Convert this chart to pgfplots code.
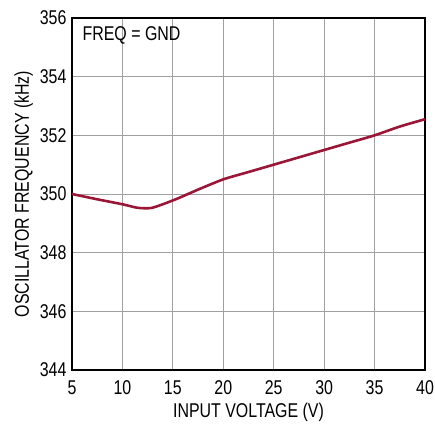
\documentclass[border=0pt]{standalone}
\usepackage{pgfplots}
\pgfplotsset{compat=1.18}
\usepackage{fontspec}
\setmainfont{Liberation Sans}[FakeStretch=0.8]
\definecolor{curve}{HTML}{9B1537}
\definecolor{gridc}{HTML}{A0A0A0}
\begin{document}
\begin{tikzpicture}[x=1bp,y=1bp]
\path[use as bounding box] (-72,-55) rectangle (363,370);
\begin{axis}[
  at={(0,0)}, anchor=south west,
  scale only axis,
  width=353bp, height=352bp,
  xmin=5, xmax=40, ymin=344, ymax=356,
  xtick={5,10,...,40},
  ytick={344,346,...,356},
  grid=major,
  major grid style={gridc, line width=0.9pt},
  axis line style={black, line width=1.2pt},
  tick style={draw=none},
  font=\fontsize{20}{22}\selectfont,
  /pgf/number format/assume math mode=true,
  /pgf/number format/1000 sep={},
  xlabel={INPUT VOLTAGE (V)},
  ylabel={OSCILLATOR FREQUENCY (kHz)},
  xlabel style={yshift=-2bp},
  ylabel style={yshift=0bp},
  xticklabel style={yshift=-7bp},
  yticklabel style={xshift=-2bp},
]
\addplot[curve, line width=2.6pt, smooth, tension=0.4] coordinates {
(5,350.0) (7.5,349.82) (10,349.65) (11.5,349.53) (12.8,349.52) (14,349.65)
(15.5,349.85) (17.5,350.15) (20,350.5) (22.5,350.75) (25,351.0)
(27.5,351.25) (30,351.5) (32.5,351.75) (35,352.0) (37.5,352.3) (40,352.55)
};
\node[anchor=north west, font=\fontsize{20}{22}\selectfont] at (rel axis cs:0.02,0.985) {FREQ = GND};
\end{axis}
\end{tikzpicture}
\end{document}
